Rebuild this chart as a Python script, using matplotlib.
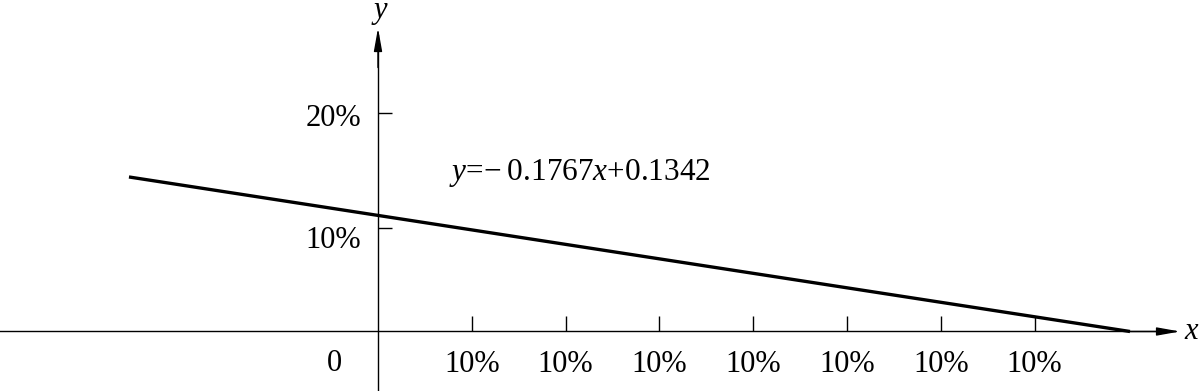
import matplotlib
matplotlib.use("Agg")
import matplotlib.pyplot as plt
import numpy as np

# ---- data ----
x_tick_values = [0.1, 0.2, 0.3, 0.4, 0.5, 0.6, 0.7]
x_tick_labels = ["10%", "10%", "10%", "10%", "10%", "10%", "10%"]
y_tick_values = [0.094, 0.199]
y_tick_labels = ["10%", "20%"]
line_x = [-0.2655, 0.8017]
line_y = [0.1405, 0.0]
equation = "$y$=\u2212\u20090.1767$x$+0.1342"

plt.rcParams['mathtext.fontset'] = 'custom'
plt.rcParams['mathtext.rm'] = 'Liberation Serif'
plt.rcParams['mathtext.it'] = 'Liberation Serif:italic'
plt.rcParams['font.family'] = ['Liberation Serif', 'DejaVu Serif']

fig = plt.figure(figsize=(12.04, 3.91), dpi=100)
ax = fig.add_axes([0, 0, 1, 1])
xmin, xmax = -0.403, 0.8806
ymin, ymax = -0.0541, 0.3014
ax.set_xlim(xmin, xmax)
ax.set_ylim(ymin, ymax)

for s in ['top', 'right']:
    ax.spines[s].set_visible(False)
ax.spines['left'].set_position(('data', 0))
ax.spines['bottom'].set_position(('data', 0))
ax.spines['left'].set_bounds(ymin, 0.27)
ax.spines['bottom'].set_bounds(xmin, 0.85)
for s in ['left', 'bottom']:
    ax.spines[s].set_linewidth(1.0)

# arrows
ax.annotate("", xy=(0.855, 0), xytext=(0.80, 0),
            arrowprops=dict(arrowstyle="-|>,head_length=1.4,head_width=0.25",
                            color='black', lw=1.0, shrinkA=0, shrinkB=0))
ax.annotate("", xy=(0, 0.2759), xytext=(0, 0.24),
            arrowprops=dict(arrowstyle="-|>,head_length=1.4,head_width=0.25",
                            color='black', lw=1.0, shrinkA=0, shrinkB=0))

ax.set_xticks(x_tick_values)
ax.set_xticklabels(x_tick_labels, fontsize=22)
ax.tick_params(axis='x', direction='in', length=11, width=1.0, pad=13)
ax.set_yticks(y_tick_values)
ax.set_yticklabels([])
ax.tick_params(axis='y', direction='in', length=10, width=1.0)

# y tick labels
offs = [-0.011, -0.005]
for v, lab, o in zip(y_tick_values, y_tick_labels, offs):
    ax.text(-0.018, v + o, lab, ha='right', va='center', fontsize=22)

ax.text(-0.046, -0.029, "0", ha='center', va='center', fontsize=22)

ax.plot(line_x, line_y, color='black', lw=2.4, solid_capstyle='butt')

ax.text(0.076, 0.1445, equation, ha='left', va='center', fontsize=22.5)
ax.text(0.002, 0.29, "$y$", ha='center', va='center', fontsize=22)
ax.text(0.868, 0.0, "$x$", ha='center', va='center', fontsize=22)

fig.savefig("out.png", dpi=100)
